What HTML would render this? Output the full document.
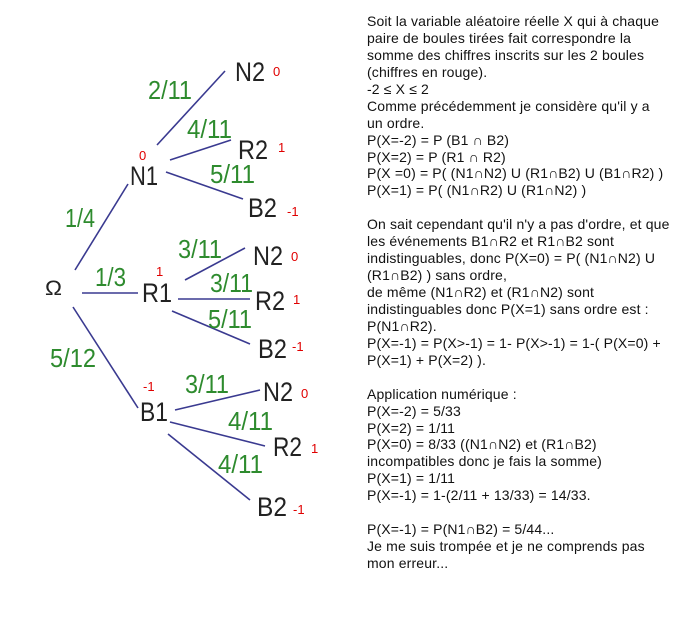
<!DOCTYPE html>
<html><head><meta charset="utf-8"><style>
html,body{margin:0;padding:0;background:#fff;width:688px;height:629px;overflow:hidden}
svg{position:absolute;left:0;top:0}
#t{position:absolute;left:367px;top:13px;font-family:"Liberation Sans",Arial,sans-serif;font-size:14px;letter-spacing:0.15px;line-height:16.93px;color:#111;white-space:nowrap}
</style></head><body>
<svg width="688" height="629" xmlns="http://www.w3.org/2000/svg" font-family="Liberation Sans, Arial, sans-serif">
<g stroke="#3a3a90" stroke-width="1.6" fill="none">
<line x1="157" y1="145" x2="225" y2="71"/>
<line x1="170" y1="160" x2="231" y2="140"/>
<line x1="166" y1="172" x2="243" y2="199"/>
<line x1="75" y1="270" x2="128" y2="184"/>
<line x1="82" y1="293" x2="138" y2="293"/>
<line x1="185" y1="280" x2="245" y2="248"/>
<line x1="178" y1="299" x2="250" y2="299"/>
<line x1="172" y1="311" x2="250" y2="344"/>
<line x1="73" y1="307" x2="138" y2="408"/>
<line x1="175" y1="410" x2="260" y2="390"/>
<line x1="170" y1="422" x2="265" y2="446"/>
<line x1="168" y1="434" x2="250" y2="500"/>
</g>
<g fill="#222" font-size="27">
<text x="235" y="81" textLength="30" lengthAdjust="spacingAndGlyphs">N2</text>
<text x="238" y="159" textLength="30" lengthAdjust="spacingAndGlyphs">R2</text>
<text x="130" y="185" textLength="28" lengthAdjust="spacingAndGlyphs">N1</text>
<text x="248" y="217" textLength="29" lengthAdjust="spacingAndGlyphs">B2</text>
<text x="45" y="295" textLength="17" lengthAdjust="spacingAndGlyphs" font-size="21">Ω</text>
<text x="142" y="302" textLength="30" lengthAdjust="spacingAndGlyphs">R1</text>
<text x="253" y="265" textLength="30" lengthAdjust="spacingAndGlyphs">N2</text>
<text x="255" y="310" textLength="30" lengthAdjust="spacingAndGlyphs">R2</text>
<text x="258" y="358" textLength="29" lengthAdjust="spacingAndGlyphs">B2</text>
<text x="140" y="421" textLength="28" lengthAdjust="spacingAndGlyphs">B1</text>
<text x="263" y="401" textLength="30" lengthAdjust="spacingAndGlyphs">N2</text>
<text x="273" y="456" textLength="29" lengthAdjust="spacingAndGlyphs">R2</text>
<text x="257" y="516" textLength="30" lengthAdjust="spacingAndGlyphs">B2</text>
</g>
<g fill="#2e8b2e" font-size="26">
<text x="148" y="99" textLength="44" lengthAdjust="spacingAndGlyphs">2/11</text>
<text x="187" y="138" textLength="45" lengthAdjust="spacingAndGlyphs">4/11</text>
<text x="210" y="183" textLength="45" lengthAdjust="spacingAndGlyphs">5/11</text>
<text x="65" y="227" textLength="30" lengthAdjust="spacingAndGlyphs">1/4</text>
<text x="95" y="286" textLength="31" lengthAdjust="spacingAndGlyphs">1/3</text>
<text x="178" y="258" textLength="44" lengthAdjust="spacingAndGlyphs">3/11</text>
<text x="210" y="292" textLength="43" lengthAdjust="spacingAndGlyphs">3/11</text>
<text x="208" y="328" textLength="44" lengthAdjust="spacingAndGlyphs">5/11</text>
<text x="50" y="367" textLength="46" lengthAdjust="spacingAndGlyphs">5/12</text>
<text x="185" y="393" textLength="44" lengthAdjust="spacingAndGlyphs">3/11</text>
<text x="228" y="430" textLength="45" lengthAdjust="spacingAndGlyphs">4/11</text>
<text x="218" y="473" textLength="45" lengthAdjust="spacingAndGlyphs">4/11</text>
</g>
<g fill="#e00000" font-size="13">
<text x="273" y="76">0</text>
<text x="278" y="152">1</text>
<text x="139" y="160">0</text>
<text x="287" y="216">-1</text>
<text x="156" y="276">1</text>
<text x="291" y="261">0</text>
<text x="293" y="304">1</text>
<text x="292" y="351">-1</text>
<text x="143" y="391">-1</text>
<text x="301" y="398">0</text>
<text x="311" y="453">1</text>
<text x="293" y="514">-1</text>
</g>
</svg>
<div id="t">Soit la variable aléatoire réelle X qui à chaque<br>paire de boules tirées fait correspondre la<br>somme des chiffres inscrits sur les 2 boules<br>(chiffres en rouge).<br>-2 ≤ X ≤ 2<br>Comme précédemment je considère qu'il y a<br>un ordre.<br>P(X=-2) = P (B1 ∩ B2)<br>P(X=2) = P (R1 ∩ R2)<br>P(X =0) = P( (N1∩N2) U (R1∩B2) U (B1∩R2) )<br>P(X=1) = P( (N1∩R2) U (R1∩N2) )<br><br>On sait cependant qu'il n'y a pas d'ordre, et que<br>les événements B1∩R2 et R1∩B2 sont<br>indistinguables, donc P(X=0) = P( (N1∩N2) U<br>(R1∩B2) ) sans ordre,<br>de même (N1∩R2) et (R1∩N2) sont<br>indistinguables donc P(X=1) sans ordre est :<br>P(N1∩R2).<br>P(X=-1) = P(X&gt;-1) = 1- P(X&gt;-1) = 1-( P(X=0) +<br>P(X=1) + P(X=2) ).<br><br>Application numérique :<br>P(X=-2) = 5/33<br>P(X=2) = 1/11<br>P(X=0) = 8/33 ((N1∩N2) et (R1∩B2)<br>incompatibles donc je fais la somme)<br>P(X=1) = 1/11<br>P(X=-1) = 1-(2/11 + 13/33) = 14/33.<br><br>P(X=-1) = P(N1∩B2) = 5/44...<br>Je me suis trompée et je ne comprends pas<br>mon erreur...</div>
</body></html>
